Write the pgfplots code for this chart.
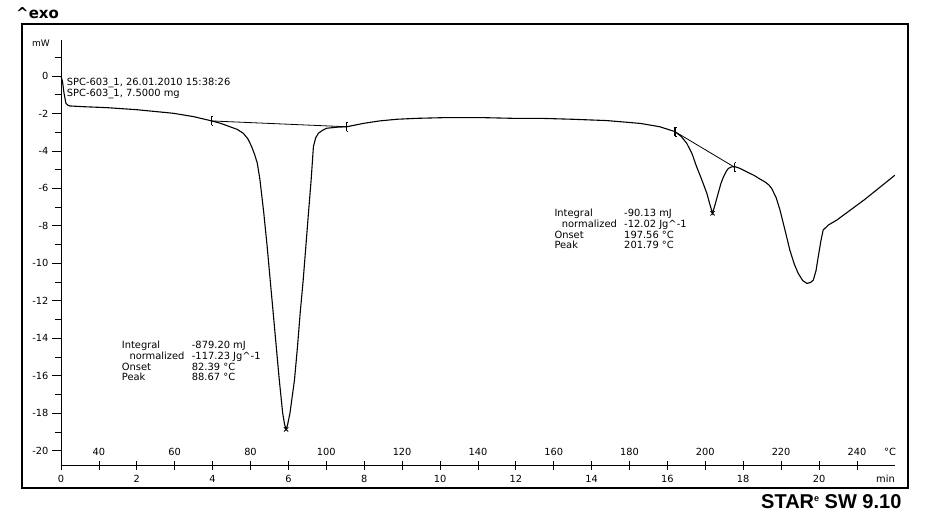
\documentclass[border=0pt]{standalone}
\usepackage{fontspec}
\setmainfont{DejaVu Sans}
\newfontfamily\arialf{Liberation Sans}
\usepackage{pgfplots}
\pgfplotsset{compat=1.18}
\pgfdeclareplotmark{lim}{%
 \pgfpathmoveto{\pgfqpoint{0pt}{-4.5pt}}\pgfpathlineto{\pgfqpoint{0pt}{4.5pt}}%
 \pgfpathmoveto{\pgfqpoint{0pt}{4.5pt}}\pgfpathlineto{\pgfqpoint{1.6pt}{4.5pt}}%
 \pgfpathmoveto{\pgfqpoint{0pt}{-4.5pt}}\pgfpathlineto{\pgfqpoint{1.6pt}{-4.5pt}}%
 \pgfusepathqstroke}
\begin{document}
\begin{tikzpicture}[x=1pt,y=1pt]
\useasboundingbox (0,0) rectangle (926,-528);
\draw[line width=1.2pt] (22,-24) rectangle (908,-488);
\node[anchor=base west,inner sep=0,font=\bfseries\fontsize{15}{16}\selectfont] at (16,-18.5) {\textasciicircum exo};
\node[anchor=base west,inner sep=0,font=\arialf\bfseries\fontsize{20}{21}\selectfont] at (761,-508.4) {STAR\raisebox{7pt}{\fontsize{9}{9}\selectfont e} SW 9.10};
\begin{axis}[at={(61pt,-465.7pt)}, anchor=south west, scale only axis,
  width=833.8pt, height=425.7pt,
  xmin=0, xmax=22, ymin=-20.8, ymax=1.92,
  axis x line=bottom, axis y line=left,
  axis line style={-, line width=0.9pt},
  clip=false,
  xtick={0,2,...,20},
  xticklabels={0,2,4,6,8,10,12,14,16,18,20},
  xticklabel style={yshift=-1.5pt},
  extra x ticks={1,3,...,21},
  extra x tick labels={40,60,80,100,120,140,160,180,200,220,240},
  extra x tick style={xticklabel style={anchor=south, yshift=12.5pt}},
  xtick align=center,
  ytick={-20,-18,...,0},
  yticklabels={-20,-18,-16,-14,-12,-10,-8,-6,-4,-2,0},
  minor ytick={-19,-17,...,1},
  ytick align=outside,
  major tick length=9pt, minor tick length=6pt,
  tick style={black, line width=0.8pt},
  tick label style={font=\fontsize{9.8}{11}\selectfont},
]
\addplot[black, line width=1.1pt] table {
0.00 0.00
0.04 -0.30
0.08 -0.92
0.13 -1.46
0.18 -1.56
0.24 -1.60
0.60 -1.64
1.21 -1.69
2.00 -1.80
2.96 -1.99
3.50 -2.17
3.98 -2.40
4.20 -2.52
4.46 -2.71
4.65 -2.85
4.81 -3.06
4.93 -3.35
5.03 -3.77
5.11 -4.20
5.18 -4.66
5.25 -5.55
5.35 -7.30
5.44 -9.11
5.52 -10.90
5.60 -12.67
5.68 -14.45
5.76 -16.23
5.85 -18.01
5.90 -18.60
5.94 -18.86
5.98 -18.60
6.04 -18.01
6.16 -16.23
6.24 -14.45
6.31 -12.67
6.39 -10.90
6.46 -9.11
6.53 -7.30
6.60 -5.55
6.66 -3.77
6.72 -3.30
6.79 -3.06
6.90 -2.90
7.01 -2.79
7.30 -2.73
7.54 -2.71
7.98 -2.53
8.40 -2.40
8.86 -2.31
9.39 -2.26
10.18 -2.22
11.06 -2.22
11.93 -2.26
12.64 -2.26
13.50 -2.31
14.40 -2.38
15.28 -2.53
15.80 -2.71
16.20 -2.97
16.36 -3.22
16.51 -3.59
16.65 -4.15
16.77 -4.84
16.90 -5.50
17.04 -6.26
17.12 -6.85
17.19 -7.33
17.26 -6.85
17.34 -6.26
17.41 -5.75
17.48 -5.38
17.55 -5.10
17.61 -4.93
17.70 -4.85
17.78 -4.84
17.90 -4.92
18.09 -5.11
18.30 -5.32
18.44 -5.50
18.58 -5.66
18.68 -5.82
18.75 -6.00
18.87 -6.50
18.97 -7.15
19.10 -8.20
19.23 -9.29
19.35 -10.05
19.45 -10.53
19.57 -10.92
19.68 -11.07
19.78 -11.02
19.85 -10.89
19.92 -10.40
19.98 -9.65
20.05 -8.80
20.11 -8.22
20.25 -7.95
20.47 -7.69
21.20 -6.60
22.00 -5.30
};
\addplot[black, line width=0.8pt] coordinates {(3.98,-2.40) (7.54,-2.71)};
\addplot[black, line width=0.8pt] coordinates {(16.20,-2.97) (17.78,-4.88)};
\addplot[black, only marks, mark=lim, mark options={line width=1.1pt}] coordinates {(3.98,-2.40) (7.54,-2.71) (16.20,-2.97) (17.78,-4.88)};
\addplot[black, only marks, mark=x, mark size=3pt, mark options={line width=0.8pt}] coordinates {(5.94,-18.86) (17.19,-7.33)};
\end{axis}
\begin{scope}[every node/.style={anchor=base west, inner sep=0, font=\fontsize{9.9}{11}\selectfont}]
\node[font=\fontsize{9}{10}\selectfont] at (32,-46.5) {mW};
\node at (66.7,-85) {SPC-603\_1, 26.01.2010 15:38:26};
\node at (66.7,-96.5) {SPC-603\_1, 7.5000 mg};
\node at (121.7,-348.5) {Integral};
\node at (129.3,-359.3) {normalized};
\node at (121.7,-370) {Onset};
\node at (121.7,-380.7) {Peak};
\node at (191.7,-348.5) {-879.20 mJ};
\node at (191.7,-359.3) {-117.23 Jg\textasciicircum-1};
\node at (191.7,-370) {82.39 °C};
\node at (191.7,-380.7) {88.67 °C};
\node at (554.3,-216.5) {Integral};
\node at (561.7,-227.5) {normalized};
\node at (554.3,-238) {Onset};
\node at (554.3,-248.5) {Peak};
\node at (624,-216.5) {-90.13 mJ};
\node at (624,-227.5) {-12.02 Jg\textasciicircum-1};
\node at (624,-238) {197.56 °C};
\node at (624,-248.5) {201.79 °C};
\node at (884,-455.5) {°C};
\node at (876,-482.5) {min};
\end{scope}
\end{tikzpicture}
\end{document}
